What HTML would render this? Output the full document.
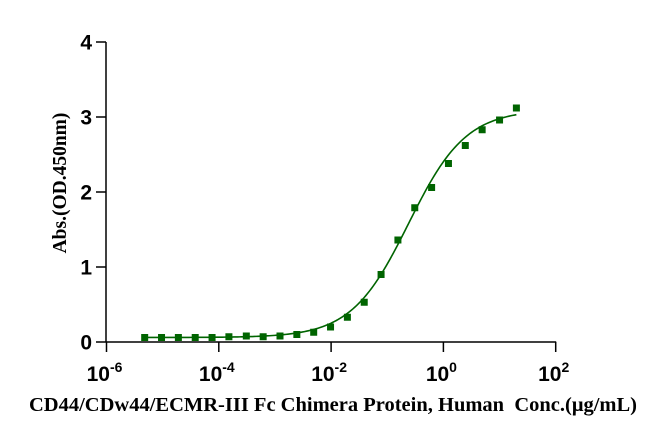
<!DOCTYPE html>
<html><head><meta charset="utf-8"><style>
html,body{margin:0;padding:0;background:#fff;width:663px;height:435px;overflow:hidden}
svg{display:block}
.tk{font-family:"Liberation Sans",Arial,sans-serif;font-weight:bold;font-size:21px;fill:#000}
.ttl{font-family:"Liberation Serif","Times New Roman",serif;font-weight:bold;fill:#000}
</style></head><body>
<svg id="chart" width="663" height="435" viewBox="0 0 663 435" xmlns="http://www.w3.org/2000/svg">
<g id="axes"></g>
<g id="plot"></g>
<text class="ttl" font-size="19.5" transform="translate(66,183) rotate(-90)" text-anchor="middle">Abs.(OD.450nm)</text>
<text class="ttl" font-size="20.5" x="333" y="411" text-anchor="middle">CD44/CDw44/ECMR-III Fc Chimera Protein, Human&#160; Conc.(μg/mL)</text>
</svg>
<script>
const logConc = [-5.32,-5.02,-4.72,-4.42,-4.12,-3.82,-3.51,-3.21,-2.91,-2.61,-2.31,-2.01,-1.71,-1.41,-1.11,-0.81,-0.51,-0.21,0.09,0.39,0.69,1.0,1.30];
const absValues = [0.06,0.06,0.06,0.06,0.06,0.07,0.08,0.07,0.08,0.10,0.13,0.20,0.33,0.53,0.90,1.36,1.79,2.06,2.38,2.62,2.83,2.96,3.12];
const fitParams = [0.06,3.1,-0.62,0.85]; // bottom, top, logEC50, hill
const yTicks = [0,1,2,3,4];
const xTickExp = [-6,-4,-2,0,2];
const xTickLabels = ["-6","-4","-2","0","2"];

const NS="http://www.w3.org/2000/svg";
const X=v=>106.5+(v+6)*56.15;
const Y=v=>342-v*75;
function mk(tag,attrs,parent){const e=document.createElementNS(NS,tag);for(const k in attrs)e.setAttribute(k,attrs[k]);parent.appendChild(e);return e;}
const axes=document.getElementById('axes'), plot=document.getElementById('plot');

let l=mk('line',{x1:106,y1:Y(4),x2:106,y2:Y(0)+0.5,stroke:'#000','stroke-width':1.5},axes);


l=mk('line',{x1:106,y1:Y(0),x2:X(2)+0.5,y2:Y(0),stroke:'#000','stroke-width':1.5},axes);



yTicks.forEach(v=>{
  const t=mk('line',{x1:96,y1:Y(v),x2:106,y2:Y(v),stroke:'#000','stroke-width':1.5},axes);
  
  
  const tx=mk('text',{x:92,y:Y(v)+7.5,'text-anchor':'end',class:'tk'},axes);
  tx.textContent=String(v);
  
  
});
xTickExp.forEach((e,i)=>{
  const t=mk('line',{x1:X(e),y1:Y(0),x2:X(e),y2:Y(0)+10,stroke:'#000','stroke-width':1.5},axes);
  
  
  const tx=mk('text',{x:X(e)-2,y:381,'text-anchor':'middle',class:'tk'},axes);
  
  
  tx.appendChild(document.createTextNode('10'));
  const s=mk('tspan',{'font-size':'14','dy':'-9'},tx);
  s.textContent=xTickLabels[i];
});

const [B,T,C,H]=fitParams;
const f=x=>B+(T-B)/(1+Math.pow(10,(C-x)*H));
let d='';
const x0=logConc[0], x1=logConc[logConc.length-1];
for(let i=0;i<=200;i++){const x=x0+(x1-x0)*i/200;d+=(i?'L':'M')+X(x).toFixed(2)+' '+Y(f(x)).toFixed(2);}
const c=mk('path',{d:d,fill:'none',stroke:'#006400','stroke-width':1.6},plot);



logConc.forEach((x,i)=>{
  const p=mk('rect',{x:X(x)-3.5,y:Y(absValues[i])-3.5,width:7,height:7,fill:'#006400'},plot);
  
  
});
</script>
</body></html>
